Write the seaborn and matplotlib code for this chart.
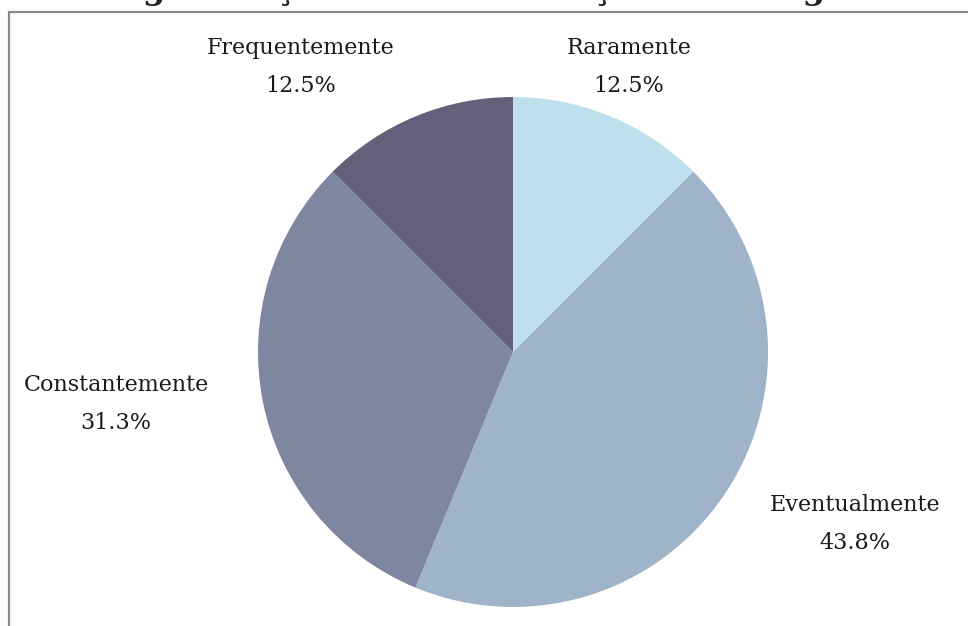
import matplotlib
matplotlib.use("Agg")
import matplotlib.pyplot as plt
from matplotlib.patches import Rectangle
from decimal import Decimal, ROUND_HALF_UP
import seaborn as sns

# Data
categories = ["Raramente", "Eventualmente", "Constantemente", "Frequentemente"]
counts = [2, 7, 5, 2]
colors = ["#bde0ec", "#9fb4c8", "#7e879f", "#636079"]
title_text = "Digitalização versus Utilização Tecnologia"

sns.set_theme(style="white")
plt.rcParams['font.family'] = ['DejaVu Serif', 'DejaVu Sans']

W, H = 968, 626
cx, cy, R = 513, 352, 255

fig = plt.figure(figsize=(W / 100, H / 100), dpi=100)
fig.patch.set_facecolor("white")
ax = fig.add_axes([0, 0, 1, 1])

total = sum(counts)
wedges, _ = ax.pie(counts, colors=colors, startangle=90, counterclock=False,
                   radius=1.0, wedgeprops=dict(linewidth=0))

ax.set_xlim(-cx / R, (W - cx) / R)
ax.set_ylim(-(H - cy) / R, cy / R)
ax.set_aspect('auto')
ax.axis('off')

# label anchors (pixel positions of label centres)
label_px = {
    "Raramente": (629, 68),
    "Eventualmente": (855, 525),
    "Constantemente": (116, 405),
    "Frequentemente": (301, 68),
}
for cat, c in zip(categories, counts):
    px, py = label_px[cat]
    x = (px - cx) / R
    y = (cy - py) / R
    pct = Decimal(100 * c) / Decimal(total)
    pct_s = str(pct.quantize(Decimal("0.1"), rounding=ROUND_HALF_UP)) + "%"
    ax.text(x, y + 20 / R, cat, ha='center', va='center', fontsize=16, color='#1a1a1a')
    ax.text(x, y - 18 / R, pct_s, ha='center', va='center', fontsize=16, color='#1a1a1a')

# frame (left and top border)
fig.add_artist(Rectangle((9 / W, -0.1), 1.2, 1 - 12 / H + 0.1, transform=fig.transFigure,
                         fill=False, edgecolor='#8a8a8a', linewidth=1.6))

# title, cropped at top in the original (only descenders visible)
t = fig.text(103 / W, 1 + 1 / H, title_text, ha='left', va='baseline', fontsize=28,
             fontweight='bold', color='#222222')
fig.canvas.draw()
wpx = t.get_window_extent().width
t.set_fontsize(28 * 757 / wpx)

fig.savefig("out.png", dpi=100, facecolor="white")
